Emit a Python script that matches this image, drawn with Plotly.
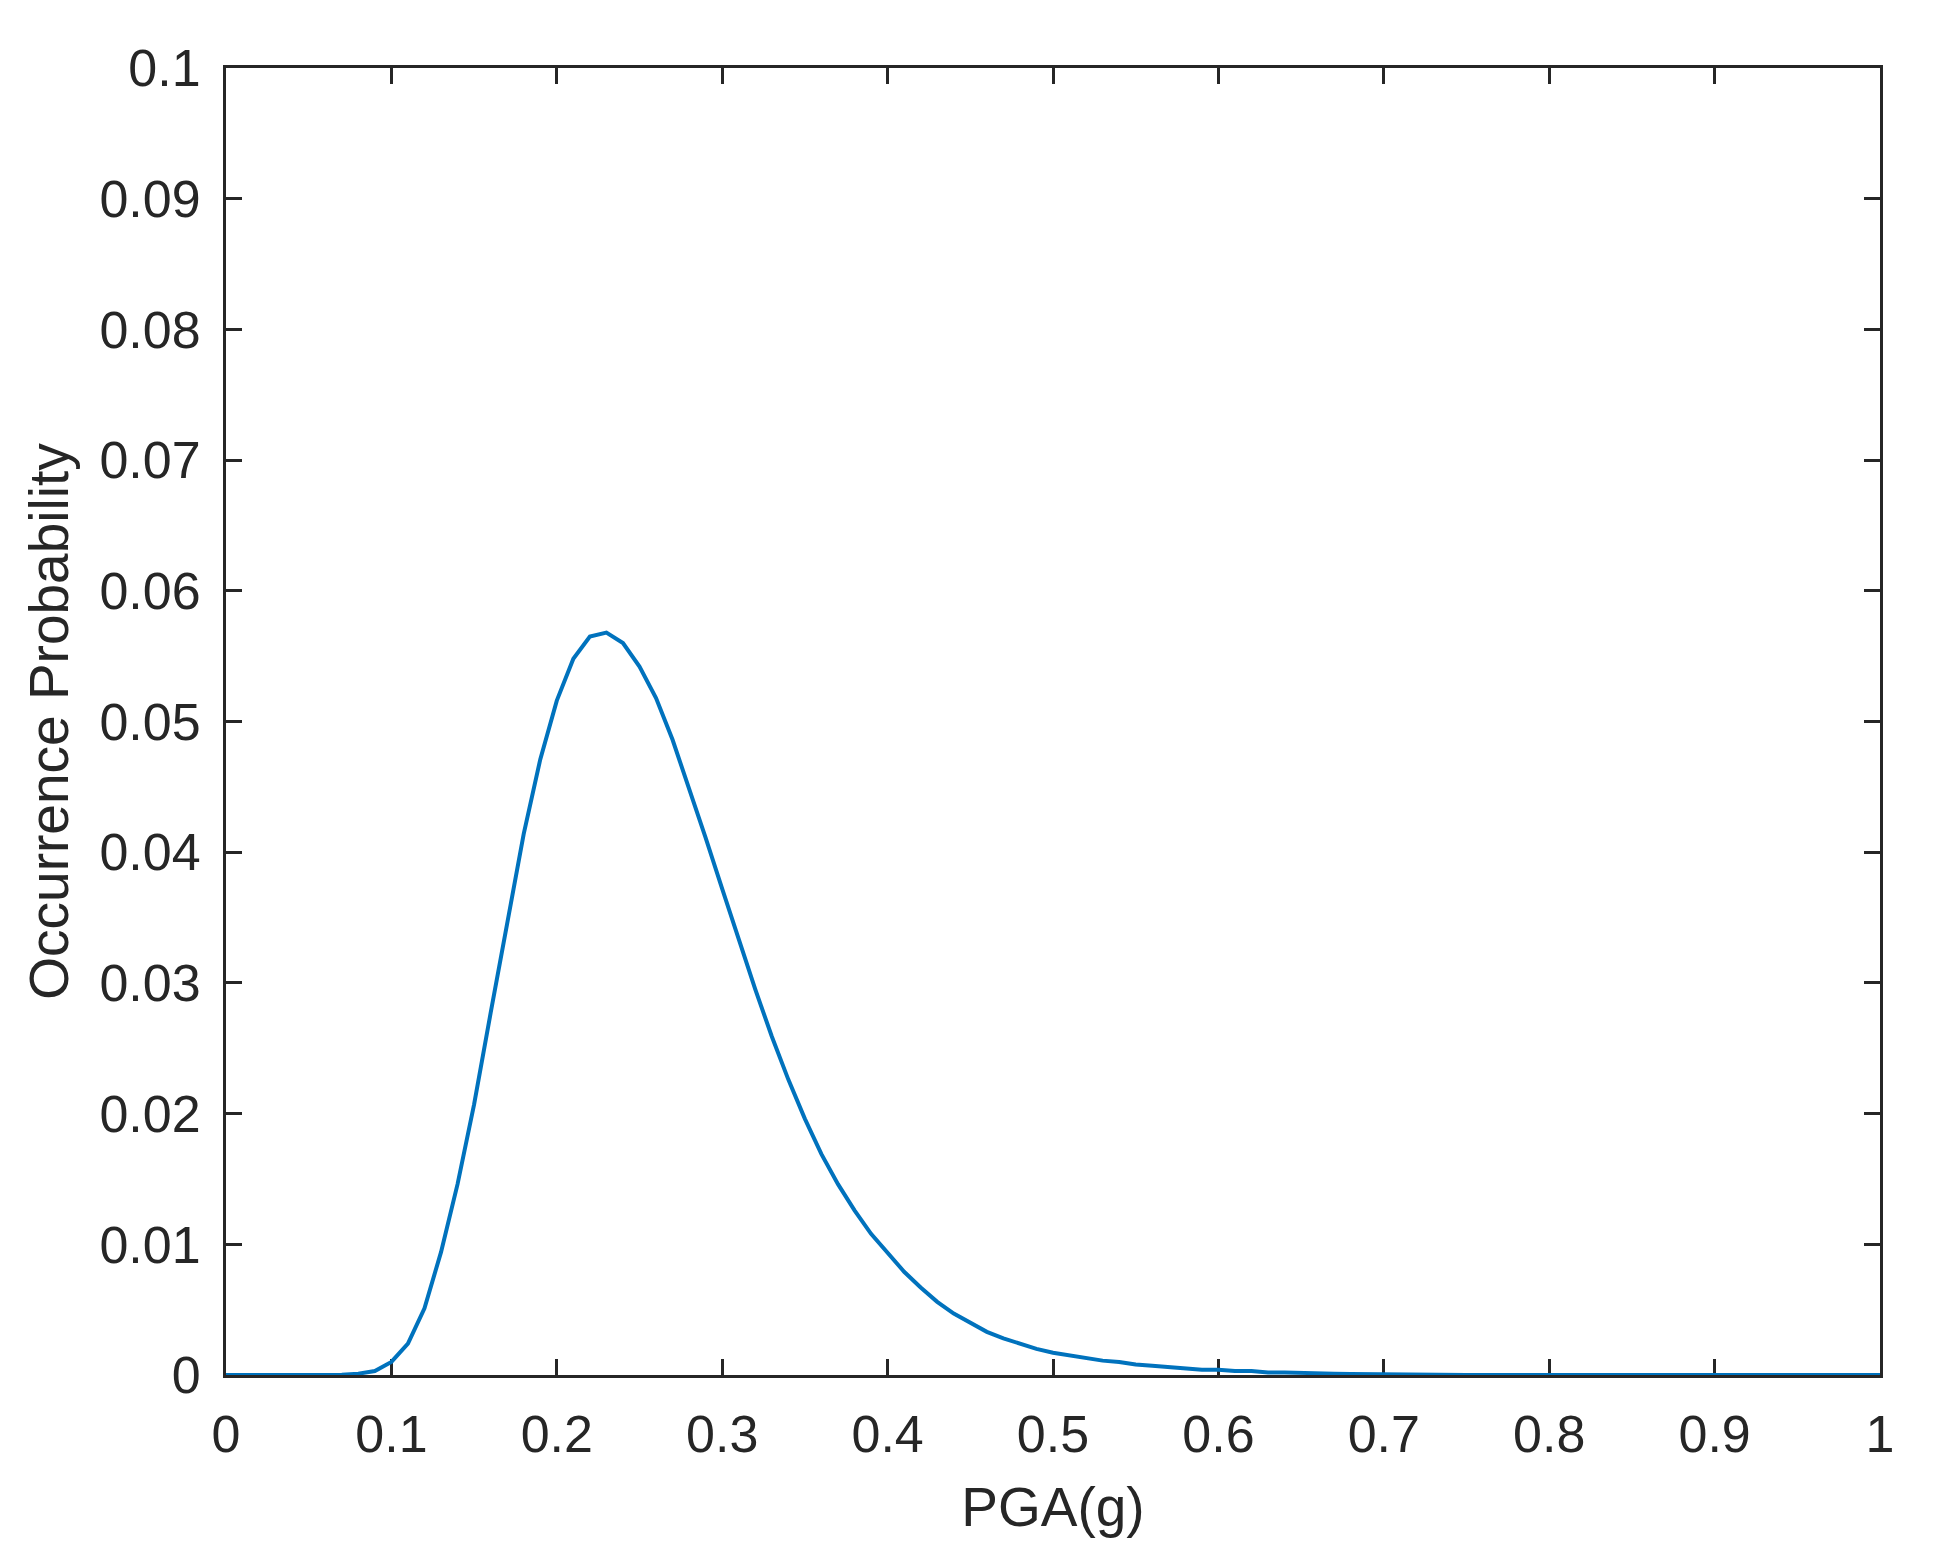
import plotly.graph_objects as go

# PGA grid (g), 0.00 .. 1.00 in 0.01 steps
pga = [round(i * 0.01, 2) for i in range(101)]

# occurrence probability, one value per PGA step
prob = [
    0, 0, 0, 0, 0, 0, 0,
    0.00002, 0.0001, 0.0003,
    0.0010, 0.0024, 0.0051, 0.0094, 0.0146, 0.0207, 0.0277, 0.0345, 0.0414, 0.0471,
    0.0516, 0.0548, 0.0565, 0.0568, 0.0560, 0.0542, 0.0518, 0.0486, 0.0449, 0.0411,
    0.0372, 0.0333, 0.0295, 0.0259, 0.0226, 0.0196, 0.0169, 0.0146, 0.0126, 0.0108,
    0.0093, 0.0079, 0.0067, 0.0056, 0.0047, 0.0040, 0.0033, 0.0028, 0.0024, 0.0020,
    0.0017, 0.0015, 0.0013, 0.0011, 0.0010, 0.0008, 0.0007, 0.0006, 0.0005, 0.0004,
    0.0004, 0.0003, 0.0003, 0.0002, 0.0002, 0.00015, 0.00012, 0.0001, 0.00008, 0.00006,
    0.00005, 0.00004, 0.00003, 0.00002, 0.00001,
    0, 0, 0, 0, 0, 0,
    0, 0, 0, 0, 0, 0, 0, 0, 0, 0,
    0, 0, 0, 0, 0, 0, 0, 0, 0, 0,
]

x_ticks = [0, 0.1, 0.2, 0.3, 0.4, 0.5, 0.6, 0.7, 0.8, 0.9, 1]
x_labels = ["0", "0.1", "0.2", "0.3", "0.4", "0.5", "0.6", "0.7", "0.8", "0.9", "1"]
y_ticks = [0, 0.01, 0.02, 0.03, 0.04, 0.05, 0.06, 0.07, 0.08, 0.09, 0.1]
y_labels = ["0", "0.01", "0.02", "0.03", "0.04", "0.05", "0.06", "0.07", "0.08", "0.09", "0.1"]

ink = "#262626"
font = "Liberation Sans, Arial, sans-serif"

fig = go.Figure()
fig.add_trace(go.Scatter(
    x=pga, y=prob, mode="lines",
    line=dict(color="#0072BD", width=4),
    showlegend=False,
))

axis_style = dict(
    showgrid=False, zeroline=False,
    showline=True, linecolor=ink, linewidth=3, mirror="ticks",
    ticks="inside", ticklen=16, tickwidth=3, tickcolor=ink,
    tickfont=dict(family=font, size=52, color=ink),
    layer="below traces",
)

fig.update_xaxes(
    range=[0, 1], tickmode="array", tickvals=x_ticks, ticktext=x_labels,
    ticklabelstandoff=12,
    title=dict(text="PGA(g)", font=dict(family=font, size=55, color=ink), standoff=26),
    **axis_style,
)
fig.update_yaxes(
    range=[0, 0.1], tickmode="array", tickvals=y_ticks, ticktext=y_labels,
    ticklabelstandoff=12,
    title=dict(text="Occurrence Probability", font=dict(family=font, size=55, color=ink), standoff=14),
    **axis_style,
)

# page body adds an 8px offset, so margins are trimmed on the left/top
fig.update_layout(
    width=1942, height=1566,
    margin=dict(l=218, r=70, t=60, b=199),
    paper_bgcolor="white", plot_bgcolor="white",
    font=dict(family=font, color=ink),
)

fig.write_html("out.html")
